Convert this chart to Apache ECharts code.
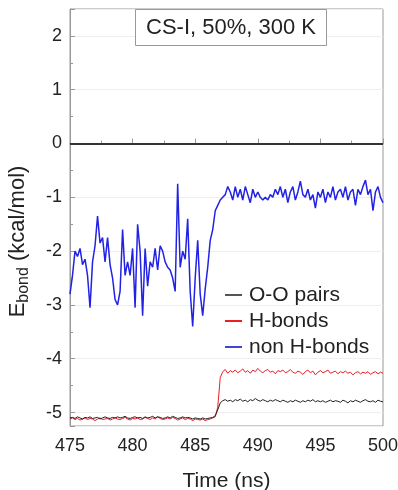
<!DOCTYPE html>
<html>
<head>
<meta charset="utf-8">
<script src="https://cdn.jsdelivr.net/npm/echarts@6/dist/echarts.min.js"></script>
<style>
  html, body { margin: 0; padding: 0; background: #fff; }
  #chart { width: 398px; height: 490px; }
</style>
</head>
<body>
<div id="chart"></div>
<script>
// sampling of the trajectory (ns)
var t0 = 475;
var dt = 0.2;

// O-O pairs
var ooPairs = [
  -5.10,-5.09,-5.11,-5.08,-5.10,-5.12,-5.09,-5.10,-5.08,-5.11,
  -5.10,-5.09,-5.12,-5.10,-5.08,-5.10,-5.11,-5.09,-5.10,-5.08,
  -5.10,-5.09,-5.07,-5.10,-5.11,-5.09,-5.08,-5.10,-5.09,-5.11,
  -5.08,-5.10,-5.09,-5.07,-5.10,-5.08,-5.09,-5.11,-5.10,-5.08,
  -5.10,-5.07,-5.09,-5.11,-5.10,-5.08,-5.10,-5.09,-5.10,-5.12,
  -5.10,-5.11,-5.12,-5.10,-5.12,-5.11,-5.10,-5.09,-5.06,-4.95,
  -4.82,-4.78,-4.76,-4.79,-4.77,-4.80,-4.76,-4.78,-4.75,-4.79,
  -4.77,-4.80,-4.76,-4.78,-4.74,-4.77,-4.79,-4.76,-4.78,-4.80,
  -4.77,-4.79,-4.76,-4.78,-4.80,-4.77,-4.79,-4.81,-4.78,-4.80,
  -4.77,-4.79,-4.81,-4.78,-4.80,-4.77,-4.79,-4.76,-4.80,-4.78,
  -4.80,-4.78,-4.81,-4.79,-4.77,-4.80,-4.78,-4.79,-4.81,-4.77,
  -4.79,-4.82,-4.78,-4.80,-4.77,-4.79,-4.81,-4.78,-4.76,-4.79,
  -4.80,-4.78,-4.81,-4.77,-4.79,-4.80
];
// H-bonds
var hBonds = [
  -5.12,-5.10,-5.13,-5.11,-5.14,-5.12,-5.10,-5.13,-5.11,-5.12,
  -5.15,-5.12,-5.10,-5.13,-5.12,-5.11,-5.14,-5.12,-5.10,-5.12,
  -5.13,-5.11,-5.09,-5.12,-5.14,-5.11,-5.12,-5.10,-5.13,-5.12,
  -5.09,-5.11,-5.13,-5.10,-5.12,-5.08,-5.11,-5.13,-5.12,-5.10,
  -5.12,-5.09,-5.11,-5.14,-5.12,-5.10,-5.13,-5.11,-5.12,-5.15,
  -5.12,-5.13,-5.14,-5.12,-5.15,-5.13,-5.12,-5.10,-5.08,-4.90,
  -4.35,-4.24,-4.20,-4.27,-4.22,-4.25,-4.21,-4.26,-4.23,-4.19,
  -4.25,-4.22,-4.27,-4.21,-4.24,-4.18,-4.23,-4.26,-4.22,-4.20,
  -4.25,-4.23,-4.28,-4.22,-4.24,-4.21,-4.26,-4.24,-4.20,-4.25,
  -4.27,-4.23,-4.25,-4.29,-4.24,-4.21,-4.26,-4.23,-4.30,-4.25,
  -4.22,-4.26,-4.24,-4.21,-4.27,-4.25,-4.23,-4.28,-4.24,-4.26,
  -4.23,-4.27,-4.25,-4.30,-4.26,-4.24,-4.28,-4.25,-4.27,-4.24,
  -4.29,-4.26,-4.24,-4.28,-4.25,-4.27
];
// non H-bonds
var nonHBonds = [
  -2.80,-2.45,-2.00,-2.10,-1.95,-2.25,-2.15,-2.45,-3.05,-2.20,
  -1.90,-1.35,-1.85,-1.75,-2.20,-1.75,-2.25,-2.50,-2.90,-3.00,
  -2.75,-1.60,-2.45,-2.20,-2.45,-1.95,-3.05,-1.50,-2.00,-3.20,
  -1.95,-2.65,-2.20,-2.30,-1.95,-2.35,-1.90,-2.00,-2.20,-2.30,
  -2.35,-2.50,-2.75,-0.75,-2.30,-2.00,-2.15,-1.40,-2.75,-3.40,
  -2.50,-1.80,-2.80,-3.20,-2.70,-2.30,-1.80,-1.60,-1.25,-1.15,
  -1.05,-1.00,-0.95,-0.80,-0.90,-1.05,-0.80,-1.00,-0.85,-1.05,
  -0.80,-0.95,-1.10,-0.85,-1.00,-0.90,-1.00,-1.05,-1.00,-1.05,
  -0.95,-1.00,-0.85,-0.95,-0.80,-1.00,-0.85,-1.10,-0.90,-0.80,
  -1.05,-0.90,-0.70,-0.95,-1.00,-0.85,-1.05,-0.95,-1.20,-0.90,
  -1.00,-0.85,-1.10,-0.90,-1.00,-0.80,-1.05,-0.90,-0.85,-1.00,
  -0.80,-1.05,-0.90,-0.85,-1.15,-0.85,-0.95,-0.80,-0.68,-0.95,
  -0.85,-1.25,-0.90,-0.80,-1.00,-1.10
];

var xTicks = [475, 480, 485, 490, 495, 500];
var seriesNames = ['O-O pairs', 'H-bonds', 'non H-bonds'];

function pairs(vals) {
  var out = [];
  for (var i = 0; i < vals.length; i++) {
    out.push([+(t0 + i * dt).toFixed(2), vals[i]]);
  }
  return out;
}

var font = 'Liberation Sans, Arial, sans-serif';
var myChart = echarts.init(document.getElementById('chart'));

var option = {
  animation: false,
  backgroundColor: '#fff',
  textStyle: { fontFamily: font },
  title: {
    text: 'CS-I, 50%, 300 K',
    left: 135,
    top: 9,
    padding: [8, 11, 7, 11],
    borderColor: '#999',
    borderWidth: 1,
    backgroundColor: '#fff',
    textStyle: { fontFamily: font, fontSize: 22, fontWeight: 'normal', color: '#222', lineHeight: 22 }
  },
  legend: {
    orient: 'vertical',
    left: 220,
    top: 279,
    itemWidth: 17,
    itemHeight: 2,
    itemGap: 4,
    icon: 'rect',
    data: seriesNames,
    textStyle: { fontFamily: font, fontSize: 21, color: '#222', lineHeight: 22, padding: [0, 0, 0, 2] }
  },
  grid: {
    left: 70, right: 15, top: 9, bottom: 64,
    outerBoundsMode: 'none',
    show: true, borderColor: '#999', borderWidth: 1
  },
  xAxis: {
    type: 'value',
    min: xTicks[0],
    max: xTicks[xTicks.length - 1],
    interval: 5,
    name: 'Time (ns)',
    nameLocation: 'middle',
    nameGap: 45,
    nameTextStyle: { fontFamily: font, fontSize: 21, color: '#222' },
    axisLine: { lineStyle: { color: '#999' } },
    axisTick: { inside: true, length: 5, lineStyle: { color: '#999' } },
    minorTick: { show: true, splitNumber: 2, length: 3, lineStyle: { color: '#999' } },
    axisLabel: { fontFamily: font, fontSize: 18, color: '#222', margin: 11 },
    splitLine: { show: false }
  },
  yAxis: {
    type: 'value',
    min: -5.25,
    max: 2.5,
    splitNumber: 7,
    name: '{e|E}{s|bond} (kcal/mol)',
    nameLocation: 'middle',
    nameRotate: 90,
    nameGap: 38,
    nameTextStyle: {
      fontFamily: font, fontSize: 22, color: '#222',
      padding: [0, 48, 0, 0],
      rich: {
        e: { fontFamily: font, fontSize: 22, color: '#222' },
        s: { fontFamily: font, fontSize: 16, color: '#222', padding: [12, 0, 0, 0] }
      }
    },
    axisLine: { show: true, lineStyle: { color: '#999' } },
    axisTick: { show: true, inside: true, length: 5, lineStyle: { color: '#999' } },
    minorTick: { show: true, splitNumber: 2, length: 3, lineStyle: { color: '#999' } },
    axisLabel: { fontFamily: font, fontSize: 18, color: '#222', margin: 8, showMinLabel: false, showMaxLabel: false },
    splitLine: { show: true, lineStyle: { color: '#eee' } }
  },
  series: [
    {
      name: seriesNames[0],
      type: 'line',
      showSymbol: false,
      data: pairs(ooPairs),
      lineStyle: { color: '#222', width: 1 },
      itemStyle: { color: '#555' },
      z: 3,
      markLine: {
        silent: true,
        symbol: 'none',
        label: { show: false },
        lineStyle: { color: '#333', width: 2, type: 'solid' },
        data: [{ yAxis: 0 }]
      }
    },
    {
      name: seriesNames[1],
      type: 'line',
      showSymbol: false,
      data: pairs(hBonds),
      lineStyle: { color: '#ee1c25', width: 1 },
      itemStyle: { color: '#ee1c25' },
      z: 2
    },
    {
      name: seriesNames[2],
      type: 'line',
      showSymbol: false,
      data: pairs(nonHBonds),
      lineStyle: { color: '#2222e6', width: 1.5 },
      itemStyle: { color: '#4444dd' },
      z: 4
    }
  ]
};
myChart.setOption(option);
</script>
</body>
</html>
